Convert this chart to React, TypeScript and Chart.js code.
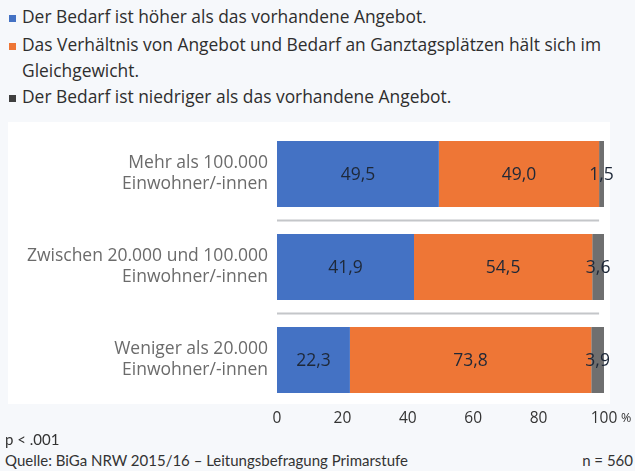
import React, { useEffect, useRef } from "react";
import { Chart, registerables } from "chart.js";

Chart.register(...registerables);

const categories: string[][] = [
  ["Mehr als 100.000", "Einwohner/-innen"],
  ["Zwischen 20.000 und 100.000", "Einwohner/-innen"],
  ["Weniger als 20.000", "Einwohner/-innen"],
];
const seriesNames = [
  "Der Bedarf ist höher als das vorhandene Angebot.",
  "Das Verhältnis von Angebot und Bedarf an Ganztagsplätzen hält sich im Gleichgewicht.",
  "Der Bedarf ist niedriger als das vorhandene Angebot.",
];
const hoeher = [49.5, 41.9, 22.3];
const gleich = [49.0, 54.5, 73.8];
const niedriger = [1.5, 3.6, 3.9];
const xTicks = [0, 20, 40, 60, 80, 100];

const barColors = ["#4472c4", "#ee7636", "#6f6f6f"];
const legendColors = ["#4472c4", "#ee7636", "#3f3f3f"];
const FONT = "'Open Sans', sans-serif";
const FOOT_FONT = "Lato, sans-serif";

const fmt = (v: number) => v.toFixed(1).replace(".", ",");

const labelPlugin = {
  id: "barLabels",
  afterDatasetsDraw(chart: any) {
    const ctx = chart.ctx;
    ctx.save();
    ctx.font = `17.5px ${FONT}`;
    ctx.fillStyle = "#1e2838";
    ctx.textAlign = "center";
    ctx.textBaseline = "middle";
    chart.data.datasets.forEach((ds: any, di: number) => {
      const meta = chart.getDatasetMeta(di);
      meta.data.forEach((bar: any, i: number) => {
        const v = ds.data[i];
        const { x, base, y } = bar.getProps(["x", "base", "y"], true);
        ctx.fillText(fmt(v), (x + base) / 2, y + 1);
      });
    });
    ctx.restore();
  },
  beforeDatasetsDraw(chart: any) {
    const ctx = chart.ctx;
    const ys = chart.scales.y;
    const xs = chart.scales.x;
    ctx.save();
    ctx.strokeStyle = "#c4c6c9";
    ctx.lineWidth = 2;
    for (let i = 0; i < categories.length - 1; i++) {
      const yy = (ys.getPixelForValue(i) + ys.getPixelForValue(i + 1)) / 2;
      ctx.beginPath();
      ctx.moveTo(xs.getPixelForValue(0), yy);
      ctx.lineTo(xs.getPixelForValue(98.5), yy);
      ctx.stroke();
    }
    ctx.restore();
  },
};

function ChartCanvas() {
  const ref = useRef<HTMLCanvasElement>(null);
  useEffect(() => {
    if (!ref.current) return;
    const chart = new Chart(ref.current, {
      type: "bar",
      data: {
        labels: categories,
        datasets: [
          { label: seriesNames[0], data: hoeher, backgroundColor: barColors[0] },
          { label: seriesNames[1], data: gleich, backgroundColor: barColors[1] },
          { label: seriesNames[2], data: niedriger, backgroundColor: barColors[2] },
        ],
      },
      options: {
        indexAxis: "y",
        animation: false,
        responsive: false,
        layout: { padding: { left: 0, right: 31, top: 5.5, bottom: 0 } },
        datasets: { bar: { categoryPercentage: 1, barPercentage: 0.71 } },
        plugins: { legend: { display: false }, tooltip: { enabled: false } },
        scales: {
          x: {
            stacked: true,
            min: 0,
            max: 100,
            afterBuildTicks: (s: any) => {
              s.ticks = xTicks.map((v) => ({ value: v }));
            },
            afterFit: (s: any) => {
              s.height = 25.5;
            },
            grid: { display: false, drawTicks: false },
            border: { display: false },
            ticks: {
              padding: 3,
              color: "#333333",
              font: { family: FONT, size: 15.5 },
            },
          },
          y: {
            stacked: true,
            afterFit: (s: any) => {
              s.width = 277;
              s.paddingTop = 0;
              s.paddingBottom = 0;
            },
            grid: { display: false, drawTicks: false },
            border: { display: false },
            ticks: {
              padding: 9,
              color: "#6b6b6b",
              font: { family: FONT, size: 17.5, lineHeight: 1.2 },
            },
          },
        },
      },
      plugins: [labelPlugin],
    } as any);
    return () => chart.destroy();
  }, []);
  return <canvas ref={ref} width={635} height={310} style={{ display: "block" }} />;
}

export default function App() {
  const legendLine = (color: string, top: number) => (
    <div
      style={{
        position: "absolute",
        left: 9,
        top: top,
        width: 7,
        height: 7,
        background: color,
      }}
    />
  );
  const textStyle: React.CSSProperties = {
    position: "absolute",
    left: 22,
    fontFamily: FONT,
    fontSize: 17.4,
    color: "#2e2e2e",
    whiteSpace: "nowrap",
    lineHeight: "20px",
  };
  return (
    <div
      style={{
        position: "fixed",
        left: 0,
        top: 0,
        width: 635,
        height: 471,
        background: "#f6f8fb",
        overflow: "hidden",
      }}
    >
      {legendLine(legendColors[0], 15)}
      <div style={{ ...textStyle, top: 6 }}>{seriesNames[0]}</div>
      {legendLine(legendColors[1], 43)}
      <div style={{ ...textStyle, top: 34 }}>
        Das Verhältnis von Angebot und Bedarf an Ganztagsplätzen hält sich im
      </div>
      <div style={{ ...textStyle, top: 60 }}>Gleichgewicht.</div>
      {legendLine(legendColors[2], 95)}
      <div style={{ ...textStyle, top: 86 }}>{seriesNames[2]}</div>

      <div
        style={{
          position: "absolute",
          left: 8,
          top: 122,
          width: 602,
          height: 282,
          background: "#ffffff",
        }}
      />
      <div style={{ position: "absolute", left: 0, top: 122 }}>
        <ChartCanvas />
      </div>
      <div
        style={{
          position: "absolute",
          left: 621,
          top: 409,
          fontFamily: FONT,
          fontSize: 12.5,
          color: "#333333",
        }}
      >
        %
      </div>
      <div
        style={{
          position: "absolute",
          left: 5,
          top: 430,
          fontFamily: FOOT_FONT,
          fontSize: 15,
          color: "#333333",
        }}
      >
        p &lt; .001
      </div>
      <div
        style={{
          position: "absolute",
          left: 5,
          top: 451,
          fontFamily: FOOT_FONT,
          fontSize: 15,
          color: "#333333",
          whiteSpace: "nowrap",
        }}
      >
        Quelle: BiGa NRW 2015/16 – Leitungsbefragung Primarstufe
      </div>
      <div
        style={{
          position: "absolute",
          right: 2,
          top: 451,
          fontFamily: FOOT_FONT,
          fontSize: 15,
          color: "#333333",
        }}
      >
        n = 560
      </div>
    </div>
  );
}
